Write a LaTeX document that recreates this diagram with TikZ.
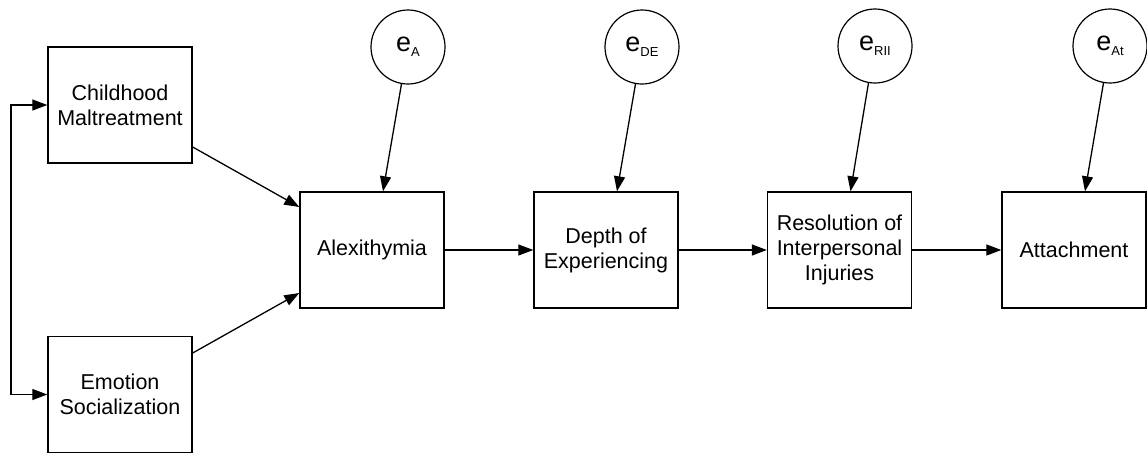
\documentclass[tikz,border=0pt]{standalone}
\usepackage{fontspec}
\setmainfont{Liberation Sans}
\usetikzlibrary{arrows.meta}
\begin{document}
\begin{tikzpicture}[x=1pt,y=-1pt,
  box/.style={draw,line width=1.4pt,minimum width=144pt,minimum height=116pt,inner sep=0pt,align=center,font=\fontsize{21.5}{25}\selectfont},
  err/.style={draw,circle,line width=1.2pt,minimum size=74pt,inner sep=0pt,font=\fontsize{27}{25}\selectfont},
  arr/.style={-{Triangle[length=15pt,width=11pt]},line width=1.3pt}]
\useasboundingbox (0,0) rectangle (1147,453);
\newcommand{\sbs}[1]{\raisebox{-5pt}{\fontsize{13}{13}\selectfont #1}}
\node[box] (CM) at (120,105) {Childhood\\Maltreatment};
\node[box] (ES) at (120,394.5) {Emotion\\Socialization};
\node[box] (A) at (372,250) {Alexithymia};
\node[box] (DE) at (606,250) {Depth of\\Experiencing};
\node[box] (RII) at (839.5,250) {Resolution of\\Interpersonal\\Injuries};
\node[box] (At) at (1074,250) {Attachment};
\node[err] (eA) at (408,47) {e\sbs{A}};
\node[err] (eDE) at (642,47) {e\sbs{DE}};
\node[err] (eRII) at (875,46) {e\sbs{RII}};
\node[err] (eAt) at (1110,46) {e\sbs{At}};
\coordinate (bx) at (11,0);
\draw[arr,{Triangle[length=15pt,width=11pt]}-{Triangle[length=15pt,width=11pt]}] (CM.west) -- (CM.west -| bx) -- (ES.west -| bx) -- (ES.west);
\draw[arr] ([yshift=-42pt]CM.east) -- ([yshift=43pt]A.west);
\draw[arr] ([yshift=41.5pt]ES.east) -- ([yshift=-43pt]A.west);
\draw[arr] (A) -- (DE);
\draw[arr] (DE) -- (RII);
\draw[arr] (RII) -- (At);
\draw[arr] (eA.-100) -- ([xshift=11pt]A.north);
\draw[arr] (eDE.-100) -- ([xshift=11pt]DE.north);
\draw[arr] (eRII.-100) -- ([xshift=11pt]RII.north);
\draw[arr] (eAt.-100) -- ([xshift=11pt]At.north);
\end{tikzpicture}
\end{document}
